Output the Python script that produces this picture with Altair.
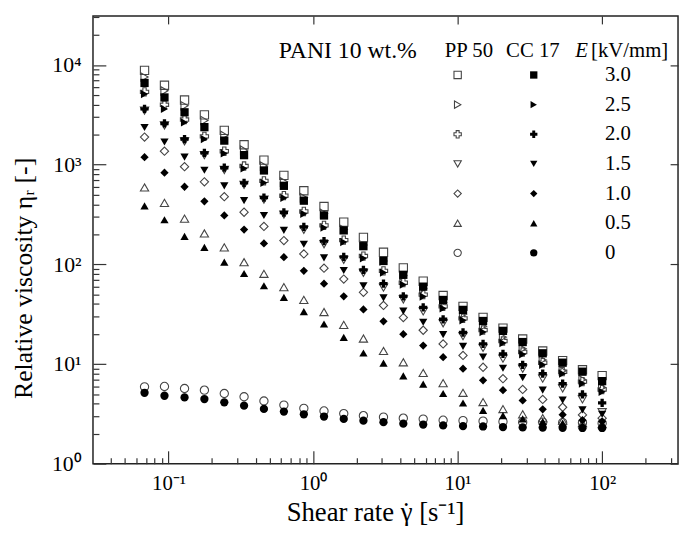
import altair as alt
import pandas as pd

# ---------------- data ----------------
shear_rate = [0.0682, 0.0937, 0.129, 0.177, 0.243, 0.333, 0.457, 0.628, 0.863, 1.19,
              1.63, 2.23, 3.07, 4.21, 5.78, 7.94, 10.9, 15.0, 20.6, 28.2,
              38.8, 53.3, 73.1, 100.0]

E_levels = ["3.0", "2.5", "2.0", "1.5", "1.0", "0.5", "0"]
shapes = ["square", "triangle-right", "cross", "triangle-down", "diamond", "triangle-up", "circle"]

# PP 50 (open symbols)
pp50_30 = [8820, 6260, 4446, 3155, 2204, 1583, 1111, 780, 547, 380, 265, 186, 132, 92.1,
           67.7, 48.6, 37.8, 29.4, 22.9, 17.8, 13.5, 10.8, 8.76, 7.64]
pp50_25 = [7570, 5500, 3900, 2770, 1966, 1396, 968, 672, 466, 324, 224, 156, 108, 76.7,
           57.0, 41.4, 31.5, 23.9, 18.6, 14.2, 11.0, 8.56, 6.97, 5.81]
pp50_20 = [5370, 3990, 2834, 1922, 1364, 968, 688, 488, 339, 246, 175, 121, 86.0, 65.4,
           49.7, 37.8, 28.7, 21.9, 17.0, 13.2, 10.3, 8.37, 6.66, 5.55]
pp50_15 = [3480, 2471, 1714, 1245, 884, 628, 445, 316, 222, 159, 111, 82.2, 58.3, 44.4,
           33.7, 25.6, 19.0, 14.5, 11.3, 8.96, 7.13, 5.68, 4.41, 3.28]
pp50_10 = [1892, 1364, 953, 672, 477, 333, 240, 173, 127, 91.5, 71.1, 52.4, 38.7, 29.2,
           21.8, 15.9, 12.2, 9.27, 7.13, 5.55, 4.41, 3.68, 3.08, 2.86]
pp50_05 = [590, 413, 287, 204, 148, 105, 80.3, 59.0, 44.0, 33.2, 24.7, 18.0, 13.5, 10.4,
           8.12, 6.43, 5.14, 4.15, 3.53, 3.13, 2.86, 2.70, 2.55, 2.49]
pp50_00 = [5.90, 5.95, 5.68, 5.46, 5.06, 4.69, 4.25, 3.87, 3.59, 3.38, 3.18, 3.03, 2.93, 2.86,
           2.80, 2.73, 2.70, 2.67, 2.64, 2.61, 2.61, 2.58, 2.58, 2.55]

# CC 17 (filled symbols)
cc17_30 = [6600, 4720, 3350, 2377, 1742, 1245, 874, 613, 435, 309, 219, 152, 108, 78.5,
           59.7, 43.9, 34.9, 27.0, 21.5, 16.6, 12.8, 10.3, 8.37, 6.73]
cc17_25 = [5100, 3620, 2648, 1807, 1295, 915, 657, 463, 321, 233, 167, 115, 82.7, 62.5,
           47.5, 36.1, 27.4, 20.9, 16.2, 12.5, 9.82, 8.0, 6.36, 5.26]
cc17_20 = [3620, 2588, 1807, 1313, 931, 657, 466, 331, 237, 171, 119, 88.0, 63.9, 47.8,
           36.9, 28.1, 20.7, 15.9, 12.6, 9.82, 8.0, 6.36, 4.95, 4.07]
cc17_15 = [2360, 1687, 1189, 878, 613, 435, 309, 219, 159, 116, 86.6, 61.0, 46.1, 33.9,
           26.2, 19.7, 15.0, 11.7, 9.06, 7.30, 5.46, 4.34, 3.47, 3.13]
cc17_10 = [1189, 831, 600, 429, 309, 223, 162, 118, 86.0, 63.9, 47.8, 35.3, 26.8, 19.9,
           15.3, 11.7, 8.96, 6.86, 5.46, 4.31, 3.51, 3.10, 2.73, 2.65]
cc17_05 = [386, 280, 191, 148, 105, 80.9, 61.0, 46.6, 33.5, 25.2, 18.5, 12.9, 10.2, 7.59,
           6.29, 5.06, 4.06, 3.42, 3.03, 2.81, 2.65, 2.55, 2.44, 2.41]
cc17_00 = [5.14, 4.80, 4.62, 4.45, 4.12, 3.82, 3.54, 3.33, 3.13, 2.97, 2.81, 2.70, 2.61, 2.52,
           2.47, 2.42, 2.38, 2.36, 2.33, 2.31, 2.30, 2.29, 2.28, 2.28]

pp50 = [pp50_30, pp50_25, pp50_20, pp50_15, pp50_10, pp50_05, pp50_00]
cc17 = [cc17_30, cc17_25, cc17_20, cc17_15, cc17_10, cc17_05, cc17_00]

x_major = [0.1, 1, 10, 100]
x_minor = [0.04, 0.05, 0.06, 0.07, 0.08, 0.09,
           0.2, 0.3, 0.4, 0.5, 0.6, 0.7, 0.8, 0.9,
           2, 3, 4, 5, 6, 7, 8, 9,
           20, 30, 40, 50, 60, 70, 80, 90,
           200, 300]
y_major = [1, 10, 100, 1000, 10000]
y_minor = [2, 3, 4, 5, 6, 7, 8, 9,
           20, 30, 40, 50, 60, 70, 80, 90,
           200, 300, 400, 500, 600, 700, 800, 900,
           2000, 3000, 4000, 5000, 6000, 7000, 8000, 9000,
           20000, 30000]

x_title = "Shear rate γ [s⁻¹]"
y_title = "Relative viscosity ηᵣ [-]"

# ---------------- table ----------------
rows = []
for sample, series in (("PP 50", pp50), ("CC 17", cc17)):
    for e, vals in zip(E_levels, series):
        for x, v in zip(shear_rate, vals):
            rows.append({"rate": x, "eta": v, "sample": sample, "E": e})
df = pd.DataFrame(rows)
df_open = df[df["sample"] == "PP 50"]
df_fill = df[df["sample"] == "CC 17"]

leg_df = pd.DataFrame({"E": E_levels, "row": list(range(len(E_levels)))})

# ---------------- style ----------------
W, H = 592, 453
FONT = "Liberation Serif"
TICK = "#333333"
xs = alt.Scale(type="log", domain=[0.03, 335], nice=False)
ys = alt.Scale(type="log", domain=[1, 31000], nice=False)
shape_scale = alt.Scale(domain=E_levels, range=shapes)

x_lbl = ("datum.value < 0.5 ? '10⁻¹' : datum.value < 5 ? '10⁰' : "
         "datum.value < 50 ? '10¹' : '10²'")
y_lbl = ("datum.value < 5 ? '10⁰' : datum.value < 50 ? '10¹' : datum.value < 500 ? '10²' : "
         "datum.value < 5000 ? '10³' : '10⁴'")


def tick_axis(orient, offset, values, size):
    return alt.Axis(orient=orient, offset=offset, values=values, labels=False, domain=False,
                    grid=False, ticks=True, tickSize=size, tickColor=TICK, tickWidth=1.2,
                    title=None)


x_main = alt.Axis(orient="bottom", values=x_major, labelExpr=x_lbl, ticks=False, domain=False,
                  grid=False, labelFont=FONT, labelFontSize=21, labelColor="black",
                  labelPadding=9, title=None)
y_main = alt.Axis(orient="left", values=y_major, labelExpr=y_lbl, ticks=False, domain=False,
                  grid=False, labelFont=FONT, labelFontSize=22, labelColor="black",
                  labelPadding=12, title=y_title, titleFont=FONT,
                  titleFontSize=26, titleFontWeight="normal", titleColor="black",
                  titleAngle=270, titleX=-70, titleY=265, titleBaseline="middle",
                  titleAlign="center")

open_pts = alt.Chart(df_open).mark_point(filled=False, size=70, strokeWidth=1.1,
                                         color="#444444", opacity=1).encode(
    x=alt.X("rate:Q", scale=xs, axis=x_main),
    y=alt.Y("eta:Q", scale=ys, axis=y_main),
    shape=alt.Shape("E:N", scale=shape_scale, legend=None),
)

fill_pts = alt.Chart(df_fill).mark_point(filled=True, size=70, color="black",
                                         opacity=1).encode(
    x=alt.X("rate:Q", scale=xs, axis=tick_axis("top", -H, x_major, 13)),
    y=alt.Y("eta:Q", scale=ys, axis=tick_axis("right", -W, y_major, 13)),
    shape=alt.Shape("E:N", scale=shape_scale, legend=None),
)

minor_carrier = alt.Chart(df_fill).mark_point(opacity=0).encode(
    x=alt.X("rate:Q", scale=xs, axis=tick_axis("top", -H, x_minor, 6)),
    y=alt.Y("eta:Q", scale=ys, axis=tick_axis("right", -W, y_minor, 6)),
)

frame_carrier = alt.Chart(df_fill).mark_point(opacity=0).encode(
    x=alt.X("rate:Q", scale=xs, axis=tick_axis("bottom", -H, x_major, 8)),
    y=alt.Y("eta:Q", scale=ys, axis=tick_axis("left", -W, y_major, 8)),
)

# ---------------- in-plot legend ----------------
leg_base = alt.Chart(leg_df).transform_calculate(ly="59.7 + 30 * datum.row")
leg_y = alt.Y("ly:Q", scale=None, axis=None)

leg_open = leg_base.mark_point(filled=False, size=55, strokeWidth=1.1, color="#444444",
                               opacity=1).encode(
    x=alt.value(369), y=leg_y, shape=alt.Shape("E:N", scale=shape_scale, legend=None))
leg_fill = leg_base.mark_point(filled=True, size=55, color="black", opacity=1).encode(
    x=alt.value(446), y=leg_y, shape=alt.Shape("E:N", scale=shape_scale, legend=None))
leg_text = leg_base.mark_text(align="left", baseline="middle", font=FONT, fontSize=21,
                              color="black").encode(
    x=alt.value(518), y=leg_y, text="E:N")


def label(txt, x, y, size=21, italic=False, align="left", baseline="middle"):
    return alt.Chart(pd.DataFrame({"t": [txt]})).mark_text(
        align=align, baseline=baseline, font=FONT, fontSize=size, color="black",
        fontStyle="italic" if italic else "normal").encode(
        x=alt.value(x), y=alt.value(y), text="t:N")


headers = [label("PANI 10 wt.%", 188, 36, size=24), label("PP 50", 356, 36),
           label("CC 17", 418, 36), label("E", 488, 36, italic=True),
           label("[kV/mm]", 504, 36)]

# x-axis title, with the dot of γ̇ set above the γ
xt = [label(x_title, 196, 511, size=27, baseline="alphabetic"),
      label("˙", 317, 511, size=27, align="center", baseline="alphabetic")]

chart = alt.layer(
    open_pts, fill_pts, minor_carrier, frame_carrier,
    leg_open, leg_fill, leg_text, *headers, *xt
).resolve_axis(
    x="independent", y="independent"
).properties(
    width=W, height=H,
    autosize=alt.AutoSizeParams(type="none"),
    padding={"left": 86, "top": 5, "right": 2, "bottom": 60},
    background="white",
).configure_view(
    stroke="#222222", strokeWidth=1.5
)

chart.save("out.html", embed_options={"renderer": "svg", "actions": False})
